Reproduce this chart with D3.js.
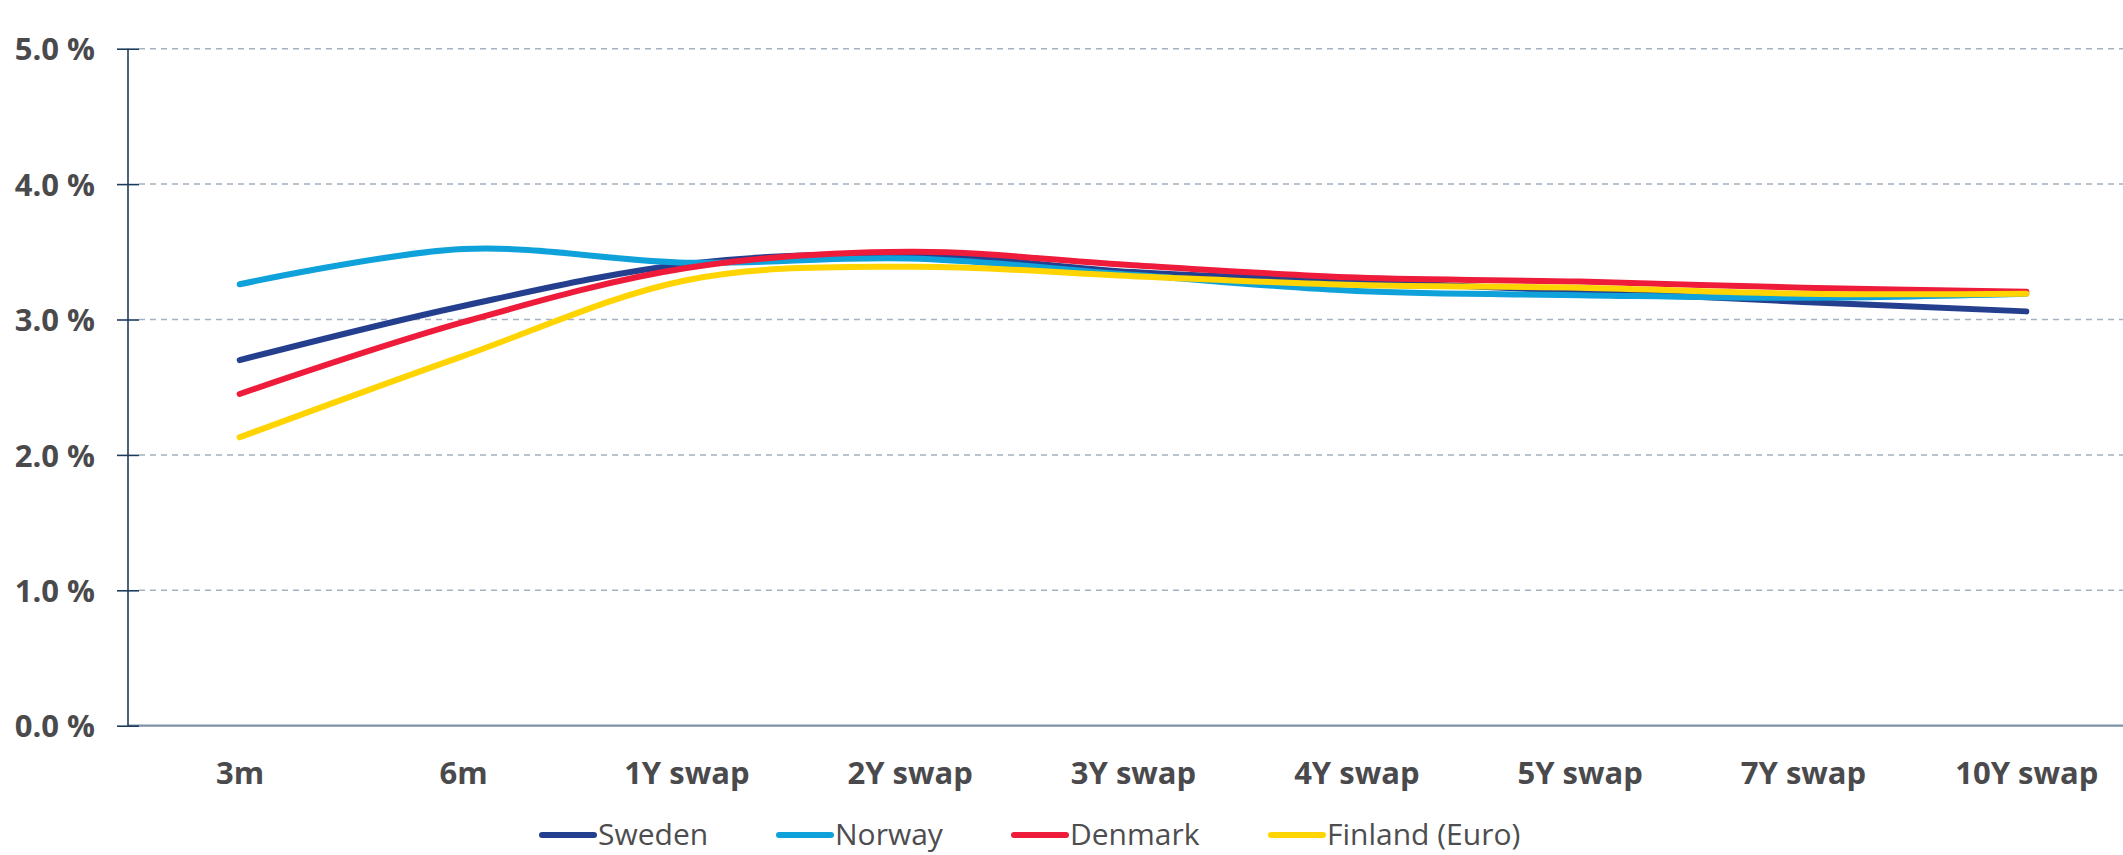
<!DOCTYPE html>
<html>
<head>
<meta charset="utf-8">
<script src="https://cdn.jsdelivr.net/npm/d3@7"></script>
<style>
  html, body { margin: 0; padding: 0; background: #ffffff; }
  svg { display: block; }
  text { font-family: "Open Sans", "Noto Sans", sans-serif; }
</style>
</head>
<body>
<svg id="chart" width="2123" height="855"></svg>
<script>
// Maturities along the curve
const maturities = ["3m", "6m", "1Y swap", "2Y swap", "3Y swap", "4Y swap", "5Y swap", "7Y swap", "10Y swap"];

// Yield per maturity, in percent
const sweden  = [2.70, 3.10, 3.41, 3.48, 3.35, 3.28, 3.21, 3.13, 3.06];
const norway  = [3.26, 3.52, 3.42, 3.45, 3.33, 3.21, 3.18, 3.16, 3.19];
const denmark = [2.45, 2.98, 3.38, 3.50, 3.40, 3.31, 3.28, 3.235, 3.205];
const finland = [2.13, 2.73, 3.29, 3.39, 3.32, 3.255, 3.235, 3.19, 3.19];

const seriesNames  = ["Sweden", "Norway", "Denmark", "Finland (Euro)"];
const seriesColors = ["#253f8f", "#0ea1da", "#ee1c3a", "#ffd400"];

const yTicks = [0, 1, 2, 3, 4, 5];

const series = [sweden, norway, denmark, finland].map((values, i) => ({
  name: seriesNames[i],
  color: seriesColors[i],
  values: values
}));

const svg = d3.select("#chart");

const plotLeft = 128, plotRight = 2138, plotTop = 48.7, plotBottom = 725.7;

const x = d3.scalePoint()
  .domain(maturities)
  .range([plotLeft, plotRight])
  .padding(0.5);

const y = d3.scaleLinear()
  .domain([0, 5])
  .range([plotBottom, plotTop]);

// Dashed horizontal gridlines
svg.append("g")
  .selectAll("line")
  .data(yTicks.filter(d => d > 0))
  .join("line")
  .attr("x1", plotLeft + 11)
  .attr("x2", 2123)
  .attr("y1", d => y(d))
  .attr("y2", d => y(d))
  .attr("stroke", "#a3b1c0")
  .attr("stroke-width", 1.5)
  .attr("stroke-dasharray", "6,5");

// Baseline at zero
svg.append("line")
  .attr("x1", plotLeft)
  .attr("x2", 2123)
  .attr("y1", y(0))
  .attr("y2", y(0))
  .attr("stroke", "#7d91a6")
  .attr("stroke-width", 2.2);

// Vertical axis with ticks crossing the line
const yAxis = d3.axisLeft(y)
  .tickValues(yTicks)
  .tickSize(0)
  .tickFormat(d => d3.format(".1f")(d) + " %");

const yAxisG = svg.append("g")
  .attr("transform", `translate(${plotLeft},0)`)
  .call(yAxis);
yAxisG.select(".domain")
  .attr("stroke", "#1d3c5c")
  .attr("stroke-width", 1.6)
  .attr("d", `M0,${plotTop}V${plotBottom}`);
yAxisG.selectAll(".tick line").remove();
yAxisG.selectAll(".tick")
  .append("line")
  .attr("x1", -11)
  .attr("x2", 11)
  .attr("stroke", "#1d3c5c")
  .attr("stroke-width", 1.6);
yAxisG.selectAll(".tick text")
  .attr("x", -33)
  .attr("dy", "0.36em")
  .attr("fill", "#4a4a4d")
  .style("font-size", "31px")
  .style("font-weight", "700");

// Category labels under the baseline
const xAxis = d3.axisBottom(x).tickSize(0).tickPadding(0);
const xAxisG = svg.append("g")
  .attr("transform", `translate(0,${plotBottom})`)
  .call(xAxis);
xAxisG.select(".domain").remove();
xAxisG.selectAll(".tick text")
  .attr("y", 58)
  .attr("dy", 0)
  .attr("fill", "#4a4a4d")
  .style("font-size", "31px")
  .style("font-weight", "700");

// Smoothed yield curves
const line = d3.line()
  .x((d, i) => x(maturities[i]))
  .y(d => y(d))
  .curve(d3.curveCatmullRom.alpha(0));

svg.append("g")
  .selectAll("path")
  .data(series)
  .join("path")
  .attr("d", d => line(d.values))
  .attr("fill", "none")
  .attr("stroke", d => d.color)
  .attr("stroke-width", 6)
  .attr("stroke-linecap", "round")
  .attr("stroke-linejoin", "round");

// Legend along the bottom
const legendX = [540, 777, 1012, 1269];
const legend = svg.append("g")
  .selectAll("g")
  .data(series)
  .join("g")
  .attr("transform", (d, i) => `translate(${legendX[i]},835)`);
legend.append("line")
  .attr("x1", 2)
  .attr("x2", 54)
  .attr("stroke", d => d.color)
  .attr("stroke-width", 6)
  .attr("stroke-linecap", "round");
legend.append("text")
  .attr("x", 58)
  .attr("y", 10)
  .attr("fill", "#4d4d4f")
  .style("font-size", "30px")
  .text(d => d.name);
</script>
</body>
</html>
